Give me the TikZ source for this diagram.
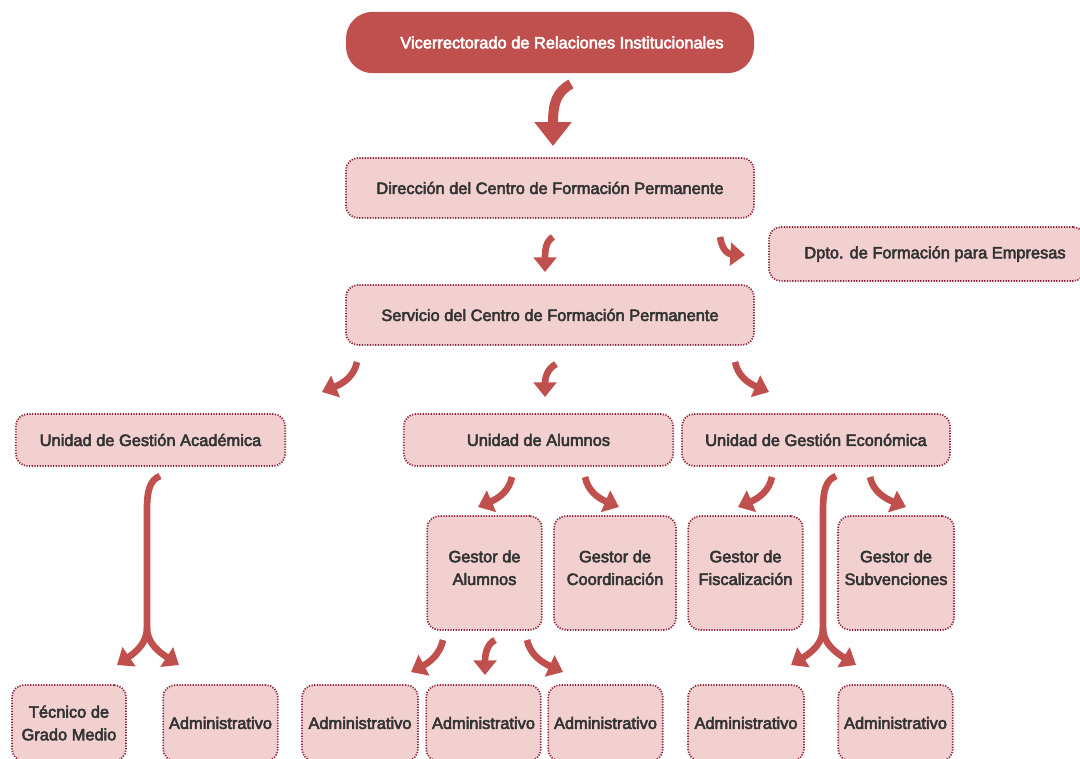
\documentclass[tikz,border=0pt]{standalone}
\usepackage{fontspec}
\setmainfont{Liberation Sans}
\usepackage{tikz}
\usetikzlibrary{arrows.meta, positioning}

\definecolor{rojo}{HTML}{C0504D}
\definecolor{rosa}{HTML}{F2D0D0}
\definecolor{borde}{HTML}{8E2238}
\definecolor{texto}{HTML}{333333}

% trazo de las letras un poco mas grueso
\newcommand\letragruesa{\special{pdf:literal direct 2 Tr 0.4 w}}
\newcommand\letranormal{\special{pdf:literal direct 0 Tr}}

\tikzset{
  caja/.style={draw=borde, line width=1.3pt, dash pattern=on 0.9pt off 1.1pt,
    fill=rosa, rounded corners=9pt, align=center, text=texto, inner sep=0pt,
    font=\fontsize{12.3}{17}\selectfont,
    execute at begin node=\letragruesa, execute at end node=\letranormal},
  cajatop/.style={fill=rojo, rounded corners=20pt, text=white, inner sep=0pt,
    font=\fontsize{12.3}{17}\selectfont,
    execute at begin node=\letragruesa, execute at end node=\letranormal},
  flecha/.style={draw=rojo, line width=5pt, -{Triangle[width=17pt,length=11pt]}},
  flechagrande/.style={draw=rojo, line width=7.5pt, -{Triangle[width=27pt,length=18pt]}},
}

\begin{document}
\begin{tikzpicture}[x=0.75pt, y=-0.75pt]
  \useasboundingbox (0,0) rectangle (1080,758);
  \clip (0,0) rectangle (1080,758);

  % cajas
  \node[cajatop, minimum width=306pt, minimum height=46pt] (vic) at (550,42.5) {\hspace{18pt}Vicerrectorado de Relaciones Institucionales};
  \node[caja, minimum width=306pt, minimum height=45pt] (dir) at (550,188) {Dirección del Centro de Formación Permanente};
  \node[caja, minimum width=237pt, minimum height=40.5pt] (dpto) at (927,254) {\hspace{12pt}Dpto. de Formación para Empresas};
  \node[caja, minimum width=306pt, minimum height=45pt] (serv) at (550,315) {Servicio del Centro de Formación Permanente};

  \node[caja, minimum width=202pt, minimum height=39pt] (uga) at (150.5,440) {Unidad de Gestión Académica};
  \node[caja, minimum width=202pt, minimum height=39pt] (ua) at (538.5,440) {Unidad de Alumnos};
  \node[caja, minimum width=201pt, minimum height=39pt] (uge) at (816,440) {Unidad de Gestión Económica};

  \node[caja, minimum width=86pt, minimum height=85.5pt] (galu) at (484.5,573) {Gestor de\\Alumnos\\[-9pt]};
  \node[caja, minimum width=91.5pt, minimum height=85.5pt] (gcoo) at (615,573) {Gestor de\\Coordinación\\[-9pt]};
  \node[caja, minimum width=86pt, minimum height=85.5pt] (gfis) at (745.5,573) {Gestor de\\Fiscalización\\[-9pt]};
  \node[caja, minimum width=87pt, minimum height=85.5pt] (gsub) at (896,573) {Gestor de\\Subvenciones\\[-9pt]};

  \node[caja, minimum width=85.5pt, minimum height=57pt] (tec) at (69,723) {Técnico de\\Grado Medio};
  \node[caja, minimum width=86pt, minimum height=57pt] (adm1) at (220.5,723) {Administrativo};
  \node[caja, minimum width=87pt, minimum height=57pt] (adm2) at (360,723) {Administrativo};
  \node[caja, minimum width=86pt, minimum height=57pt] (adm3) at (483.5,723) {Administrativo};
  \node[caja, minimum width=86pt, minimum height=57pt] (adm4) at (605.5,723) {Administrativo};
  \node[caja, minimum width=87pt, minimum height=57pt] (adm5) at (746,723) {Administrativo};
  \node[caja, minimum width=86pt, minimum height=57pt] (adm6) at (895.5,723) {Administrativo};

  % extremos de las flechas
  \coordinate (vicout) at (571,84);    \coordinate (dirin) at (553,146);
  \coordinate (dirout) at (553,237);   \coordinate (servin) at (545,272);
  \coordinate (dirlado) at (720,237);  \coordinate (dptoin) at (745,255);
  \coordinate (servl) at (357,362);    \coordinate (ugain) at (322,392);
  \coordinate (servc) at (556,364);    \coordinate (uain) at (545,397);
  \coordinate (servr) at (735,362);    \coordinate (ugein) at (769,392);
  \coordinate (ual) at (512,477);      \coordinate (galuin) at (478,507);
  \coordinate (uar) at (585,477);      \coordinate (gcooin) at (619,507);
  \coordinate (ugel) at (772,477);     \coordinate (gfisin) at (738,507);
  \coordinate (uger) at (870,477);     \coordinate (gsubin) at (906,507);
  \coordinate (galul) at (443,640);    \coordinate (adm2in) at (411,672);
  \coordinate (galuc) at (495,640);    \coordinate (adm3in) at (485,675);
  \coordinate (galur) at (527,640);    \coordinate (adm4in) at (563,672);
  \coordinate (ugaout) at (160,476);   \coordinate (ugafork) at (147,628);
  \coordinate (tecin) at (117,665);    \coordinate (adm1in) at (179,665);
  \coordinate (ugeout) at (836,476);   \coordinate (ugefork) at (823,628);
  \coordinate (adm5in) at (791,665);   \coordinate (adm6in) at (856,665);

  % flechas
  \draw[flechagrande] (vicout) .. controls (556,92) and (553,104) .. (dirin);
  \draw[flecha] (dirout) .. controls (546,241) and (545,250) .. (servin);
  \draw[flecha] (dirlado) .. controls (722,250) and (728,254) .. (dptoin);
  \draw[flecha] (servl) .. controls (354,376) and (344,383) .. (ugain);
  \draw[flecha] (servc) .. controls (547,369) and (545,378) .. (uain);
  \draw[flecha] (servr) .. controls (738,376) and (748,383) .. (ugein);
  \draw[flecha] (ual) .. controls (509,491) and (499,498) .. (galuin);
  \draw[flecha] (uar) .. controls (588,491) and (598,498) .. (gcooin);
  \draw[flecha] (ugel) .. controls (769,491) and (759,498) .. (gfisin);
  \draw[flecha] (uger) .. controls (873,491) and (884,498) .. (gsubin);
  \draw[flecha] (galul) .. controls (440,654) and (430,662) .. (adm2in);
  \draw[flecha] (galuc) .. controls (487,644) and (485,654) .. (adm3in);
  \draw[flecha] (galur) .. controls (530,654) and (541,662) .. (adm4in);

  \draw[draw=rojo, line width=5pt] (ugaout) .. controls (150,480) and (147,490) .. (147,510) -- (ugafork);
  \draw[flecha] (ugafork) .. controls (147,643) and (136,652) .. (tecin);
  \draw[flecha] (ugafork) .. controls (147,643) and (159,652) .. (adm1in);
  \draw[draw=rojo, line width=5pt] (ugeout) .. controls (826,480) and (823,490) .. (823,510) -- (ugefork);
  \draw[flecha] (ugefork) .. controls (823,643) and (812,652) .. (adm5in);
  \draw[flecha] (ugefork) .. controls (823,643) and (835,652) .. (adm6in);
\end{tikzpicture}
\end{document}
